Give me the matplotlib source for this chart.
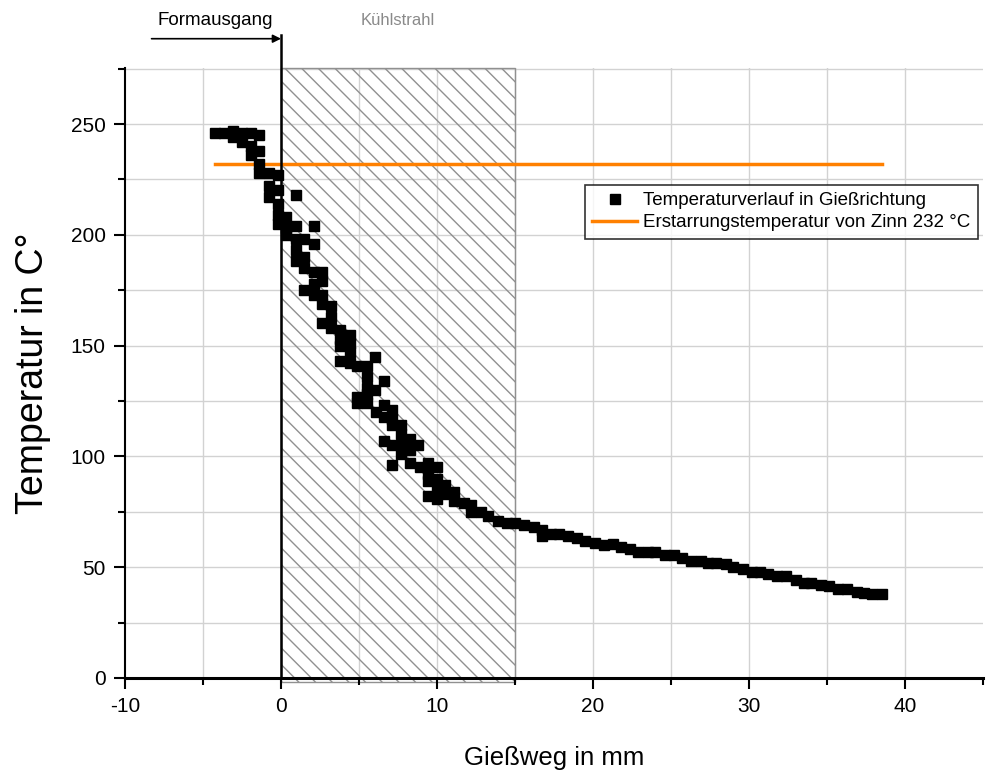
import numpy as np
import matplotlib.pyplot as plt
from matplotlib.patches import Rectangle
from matplotlib.ticker import MultipleLocator

plt.rcParams['font.family'] = ['Liberation Sans', 'DejaVu Sans']
plt.rcParams['axes.unicode_minus'] = False

# Temperaturverlauf entlang des Gießwegs (x in mm, T in °C)
weg_mm = [
    -4.2, -3.65, -3.1, -3.1, -2.5, -2.5, -1.9, -1.9, -1.9,
    -1.4, -1.4, -1.4, -1.4, -0.8, -0.8, -0.8, -0.2, -0.2, -0.2, -0.2, -0.2,
    0.3, 0.3, 0.3, 0.95, 0.95, 0.95, 0.95, 0.95,
    1.5, 1.5, 1.5, 1.5, 2.1, 2.1, 2.1, 2.1, 2.1,
    2.6, 2.6, 2.6, 2.6, 2.6, 3.2, 3.2, 3.2,
    3.8, 3.8, 3.8, 3.8, 4.4, 4.4, 4.4, 4.4,
    4.9, 4.9, 4.9, 5.5, 5.5, 5.5, 5.5, 5.5,
    6.0, 6.0, 6.1, 6.6, 6.6, 6.6, 6.6,
    7.1, 7.1, 7.1, 7.1, 7.1, 7.7, 7.7, 7.7, 7.7,
    8.3, 8.3, 8.3, 8.8, 8.9, 9.4, 9.4, 9.4, 9.4,
    10.0, 10.0, 10.0, 10.0, 10.5, 10.5, 11.1, 11.1, 11.7,
    12.2, 12.2, 12.8, 13.3, 13.9, 14.5, 15.0,
    15.6, 16.2, 16.7, 16.7, 17.3, 17.8, 18.4, 19.0, 19.5, 20.1,
    20.7, 21.3, 21.8, 22.4, 22.9, 23.5, 24.0, 24.6, 25.2, 25.7,
    26.3, 26.9, 27.4, 27.9, 28.5, 29.0, 29.6, 30.2, 30.7, 31.2,
    31.8, 32.4, 33.0, 33.5, 34.0, 34.6, 35.1, 35.7, 36.3, 36.9,
    37.4, 37.9, 38.5,
]
temp_c = [
    246, 246, 247, 244, 246, 242, 246, 240, 236,
    245, 238, 232, 228, 228, 222, 217, 227, 220, 214, 209, 205,
    208, 203, 200, 218, 204, 198, 193, 188,
    198, 190, 185, 175, 204, 196, 183, 178, 173,
    183, 179, 173, 169, 160, 168, 163, 158,
    157, 153, 150, 143, 155, 151, 147, 142,
    141, 127, 124, 141, 136, 131, 128, 124,
    145, 130, 120, 134, 123, 118, 107,
    121, 117, 114, 105, 96, 114, 110, 105, 101,
    108, 103, 97, 105, 95, 97, 92, 89, 82,
    95, 90, 85, 81, 87, 83, 84, 80, 79,
    78, 75, 75, 73, 71, 70, 70,
    69, 68, 67, 64, 65, 65, 64, 63, 62, 61,
    60, 60.5, 59, 58, 57, 57, 57, 55.5, 55.5, 54,
    53, 53, 52, 52, 51.5, 50, 49, 48, 48, 47,
    46, 46, 44, 43, 43, 42, 41.5, 40, 40, 39,
    38.5, 38, 38,
]

zinn_solidus = 232          # Erstarrungstemperatur Zinn
kuehl_start, kuehl_ende = 0, 15   # Bereich des Kühlstrahls
formausgang = 0

fig = plt.figure(figsize=(10.05, 7.76), dpi=100)
ax = fig.add_axes([0.1244, 0.1263, 0.8537, 0.7867])
ax.set_xlim(-10, 45)
ax.set_ylim(0, 275.5)

# Raster
for xg in np.arange(-5, 45, 5):
    ax.axvline(xg, color='#d2d2d2', lw=1, zorder=0)
for yg in np.arange(25, 276, 25):
    ax.axhline(yg, color='#d2d2d2', lw=1, zorder=0)

# schraffierter Kühlbereich
ax.add_patch(Rectangle((kuehl_start, -2), kuehl_ende - kuehl_start, 277.5,
                       fill=False, hatch='\\\\', edgecolor='#909090', lw=1,
                       clip_on=False, zorder=1))

ax.plot([min(weg_mm), max(weg_mm)], [zinn_solidus, zinn_solidus],
        color='#ff8000', lw=2.5, zorder=3,
        label='Erstarrungstemperatur von Zinn 232 °C')
ax.plot(weg_mm, temp_c, ls='none', marker='s', ms=6.5, color='black',
        mec='black', zorder=4, label='Temperaturverlauf in Gießrichtung')

# Formausgang: senkrechte Linie und Pfeil
ax.plot([formausgang, formausgang], [0, 290], color='black', lw=1.8,
        clip_on=False, zorder=5)
ax.annotate('', xy=(formausgang, 288.5), xytext=(-8.3, 288.5),
            annotation_clip=False,
            arrowprops=dict(arrowstyle='-|>', color='black', lw=1.2,
                            mutation_scale=12, shrinkA=0, shrinkB=0))
ax.text(-4.2, 296.5, 'Formausgang', ha='center', va='center', fontsize=13.5,
        clip_on=False)
ax.text(7.5, 296.5, 'Kühlstrahl', ha='center', va='center', fontsize=12,
        color='#8a8a8a', clip_on=False)

# Achsen
for side in ('top', 'right'):
    ax.spines[side].set_visible(False)
ax.spines['left'].set_linewidth(1.5)
ax.spines['bottom'].set_linewidth(2.2)
ax.xaxis.set_major_locator(MultipleLocator(10))
ax.xaxis.set_minor_locator(MultipleLocator(5))
ax.yaxis.set_major_locator(MultipleLocator(50))
ax.yaxis.set_minor_locator(MultipleLocator(25))
ax.tick_params(which='major', direction='out', length=8, width=1.5,
               labelsize=15, pad=6)
ax.tick_params(which='minor', direction='out', length=5, width=1.5)
ax.set_xticks(np.arange(-10, 41, 10))
ax.set_xlabel('Gießweg in mm', fontsize=18.5, labelpad=21)
ax.set_ylabel('Temperatur in C°', fontsize=27, labelpad=14)

handles, labels = ax.get_legend_handles_labels()
leg = ax.legend(handles[::-1], labels[::-1], loc='upper right',
                bbox_to_anchor=(0.994, 0.808), fontsize=13.5, frameon=True,
                fancybox=False, borderpad=0.4, labelspacing=0.25,
                handlelength=2.4, handletextpad=0.3, borderaxespad=0)
leg.get_frame().set_edgecolor('black')
leg.get_frame().set_linewidth(1.2)

fig.savefig('out.png', dpi=100)
